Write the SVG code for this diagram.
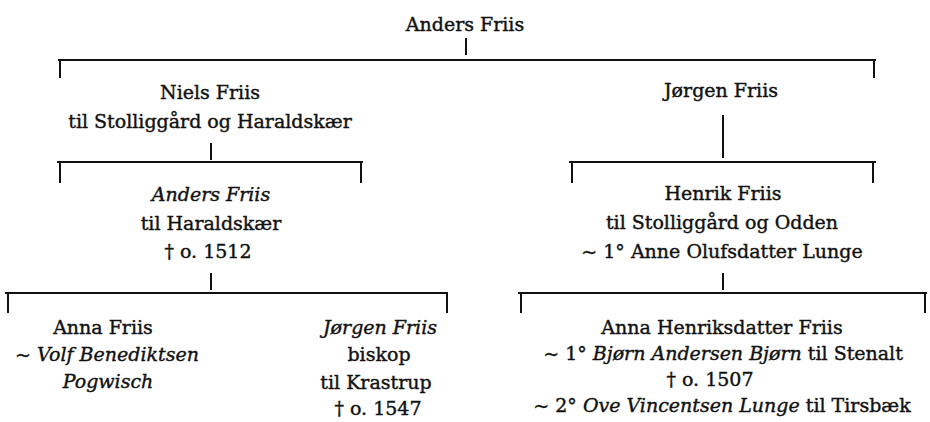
<svg xmlns="http://www.w3.org/2000/svg" width="930" height="422" viewBox="0 0 930 422">
<style>
text{font-family:"DejaVu Serif","Liberation Serif",serif;font-size:19px;fill:#111;stroke:#111;stroke-width:0.4;text-anchor:middle}
.i{font-style:italic}
.c line{stroke:#111;stroke-width:2}
</style>
<rect width="930" height="422" fill="#fff"/>
<g id="connectors" class="c">
<line x1="466" y1="38" x2="466" y2="55"/>
<line x1="58" y1="60" x2="876" y2="60"/>
<line x1="60" y1="61" x2="60" y2="78"/>
<line x1="874" y1="61" x2="874" y2="78"/>
<line x1="211" y1="143" x2="211" y2="160"/>
<line x1="57" y1="162" x2="363" y2="162"/>
<line x1="60" y1="163" x2="60" y2="183"/>
<line x1="361" y1="163" x2="361" y2="183"/>
<line x1="211" y1="273" x2="211" y2="290"/>
<line x1="5" y1="293" x2="448" y2="293"/>
<line x1="8" y1="294" x2="8" y2="313"/>
<line x1="447" y1="294" x2="447" y2="313"/>
<line x1="723" y1="115" x2="723" y2="158"/>
<line x1="569" y1="162" x2="876" y2="162"/>
<line x1="572" y1="163" x2="572" y2="183"/>
<line x1="873" y1="163" x2="873" y2="183"/>
<line x1="723" y1="273" x2="723" y2="290"/>
<line x1="518" y1="293" x2="927" y2="293"/>
<line x1="521" y1="294" x2="521" y2="313"/>
<line x1="925" y1="294" x2="925" y2="313"/>
</g>
<g id="anders-friis-root"><text x="465" y="31">Anders Friis</text></g>
<g id="niels-friis"><text x="210" y="99">Niels Friis</text><text x="210" y="128">til Stolliggård og Haraldskær</text></g>
<g id="jorgen-friis"><text x="721" y="97">Jørgen Friis</text></g>
<g id="anders-friis-2"><text x="211" y="201" class="i">Anders Friis</text><text x="211" y="230">til Haraldskær</text><text x="208" y="258">† o. 1512</text></g>
<g id="henrik-friis"><text x="723" y="200">Henrik Friis</text><text x="722" y="229">til Stolliggård og Odden</text><text x="722" y="258">~ 1° Anne Olufsdatter Lunge</text></g>
<g id="anna-friis"><text x="103" y="334">Anna Friis</text><text x="107" y="361">~ <tspan class="i">Volf Benediktsen</tspan></text><text x="108" y="388" class="i">Pogwisch</text></g>
<g id="jorgen-friis-2"><text x="380" y="334" class="i">Jørgen Friis</text><text x="379" y="361">biskop</text><text x="376" y="389">til Krastrup</text><text x="378" y="415">† o. 1547</text></g>
<g id="anna-henriksdatter-friis"><text x="722" y="334">Anna Henriksdatter Friis</text><text x="723" y="360">~ 1° <tspan class="i">Bjørn Andersen Bjørn</tspan> til Stenalt</text><text x="710" y="386">† o. 1507</text><text x="722" y="412">~ 2° <tspan class="i">Ove Vincentsen Lunge</tspan> til Tirsbæk</text></g>
</svg>
